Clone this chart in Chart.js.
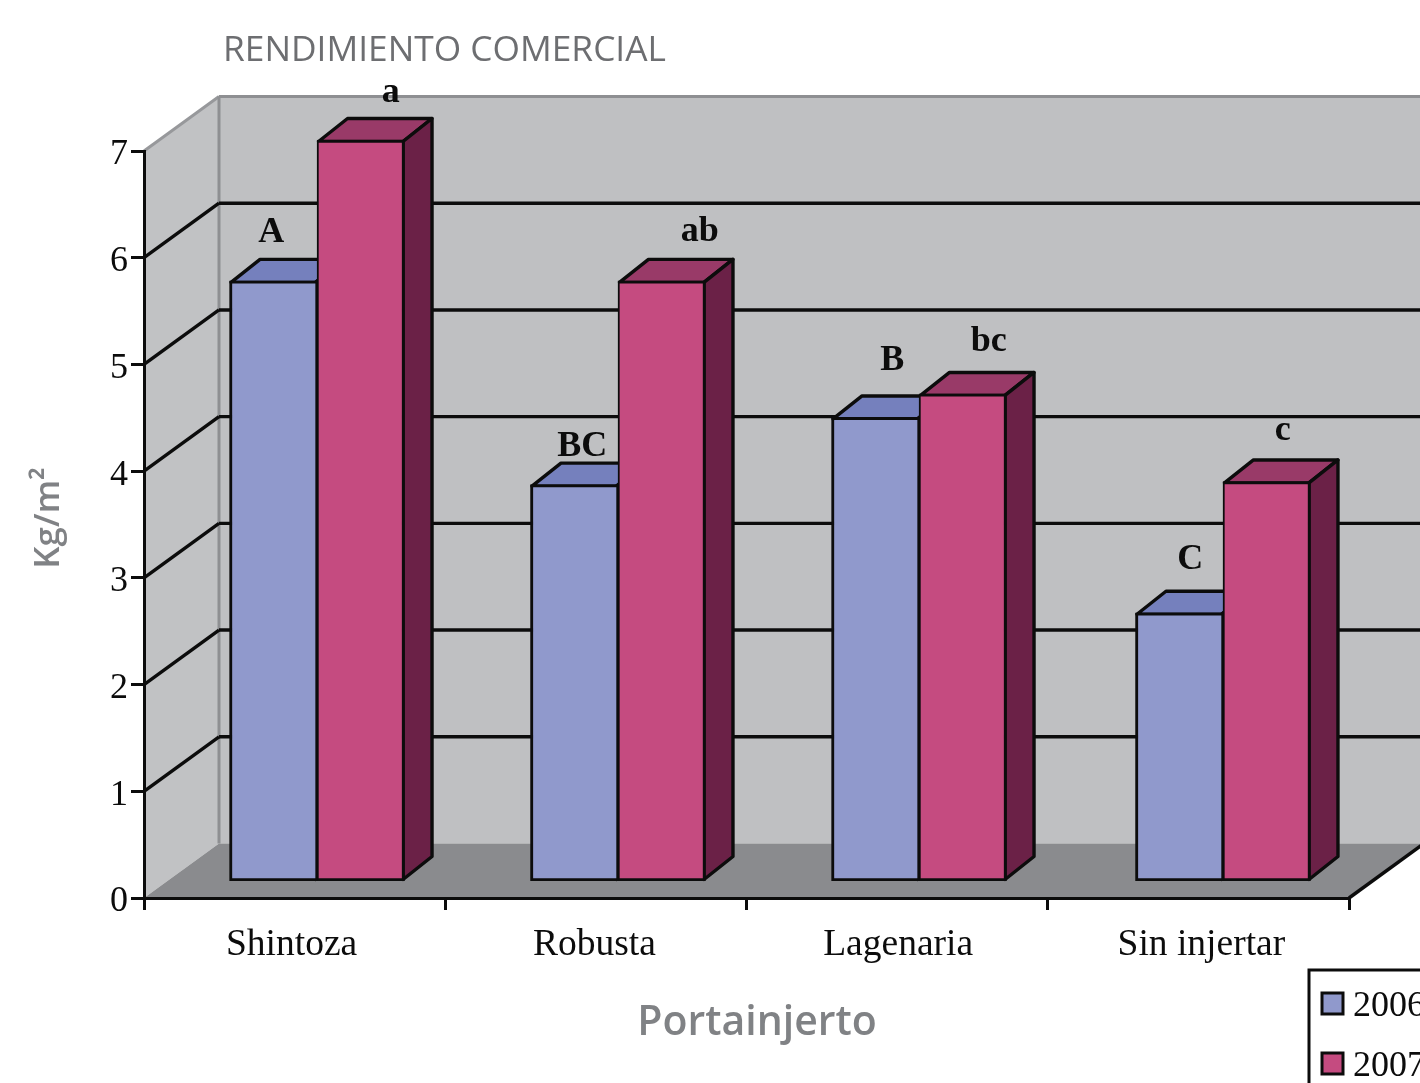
<!DOCTYPE html>
<html><head><meta charset="utf-8">
<style>html,body{margin:0;padding:0;background:#fff;overflow:hidden}canvas{display:block;filter:blur(0.4px)}</style>
<script src="https://cdn.jsdelivr.net/npm/chart.js@4"></script>
</head><body><canvas id="c" width="1420" height="1083"></canvas>
<script>
const categories = ['Shintoza', 'Robusta', 'Lagenaria', 'Sin injertar'];
const seriesNames = ['2006', '2007'];
const values2006 = [5.61, 3.70, 4.33, 2.50];
const values2007 = [6.93, 5.61, 4.55, 3.73];
const letters2006 = ['A', 'BC', 'B', 'C'];
const letters2007 = ['a', 'ab', 'bc', 'c'];
const titleText = 'RENDIMIENTO COMERCIAL';
const xTitleText = 'Portainjerto';
const yTitleText = 'Kg/m²';

// layout constants (3D projection), not data
const WALL_DX = 75, WALL_DY = -54.5;
const BAR_DX = 29, BAR_DY = -23, BAR_LIFT = -17;
const barShift = [22.4, 22.1, 21.9, 24.6];
const xLabelShift = [-3, -1.5, 1, 3];
const yLabelDrop = 4;
const letterOffset2006 = [[-2, -50], [8, -39], [17, -58], [11, -55]];
const letterOffset2007 = [[30, -49], [38, -51], [26, -54], [16, -52]];
const SERIF = '"Liberation Serif"';
const INK = '#0c0c0c';
const HALF = 1.5;
const LW = 3.4;

function poly(ctx, pts, fill, stroke, lw) {
  ctx.beginPath();
  pts.forEach((p, i) => i ? ctx.lineTo(p[0], p[1]) : ctx.moveTo(p[0], p[1]));
  ctx.closePath();
  if (fill) { ctx.fillStyle = fill; ctx.fill(); }
  if (stroke) { ctx.strokeStyle = stroke; ctx.lineWidth = lw; ctx.lineJoin = 'round'; ctx.stroke(); }
}
function line(ctx, x1, y1, x2, y2, color, lw) {
  ctx.beginPath(); ctx.moveTo(x1, y1); ctx.lineTo(x2, y2);
  ctx.strokeStyle = color; ctx.lineWidth = lw; ctx.stroke();
}

const walls = {
  id: 'walls',
  beforeDraw(chart) {
    const { ctx, chartArea: a, scales: { x, y } } = chart;
    // nudge the tick labels drawn by the library
    y.getLabelItems(a).forEach(it => { if (!it.moved) { it.options.translation[1] += yLabelDrop; it.moved = true; } });
    x.getLabelItems(a).forEach((it, i) => { if (!it.moved) { it.options.translation[0] += xLabelShift[i]; it.moved = true; } });
    const L = a.left, R = a.right, T = a.top, B = a.bottom;
    ctx.save();
    poly(ctx, [[L, T], [L + WALL_DX, T + WALL_DY], [L + WALL_DX, B + WALL_DY], [L, B]], '#c1c2c4');
    poly(ctx, [[L + WALL_DX, T + WALL_DY], [R + WALL_DX, T + WALL_DY], [R + WALL_DX, B + WALL_DY], [L + WALL_DX, B + WALL_DY]], '#bfc0c2');
    poly(ctx, [[L, B], [L + WALL_DX, B + WALL_DY], [R + WALL_DX, B + WALL_DY], [R, B]], '#8a8b8e');
    line(ctx, L, T, L + WALL_DX, T + WALL_DY, '#97989b', 3);
    line(ctx, L + WALL_DX, T + WALL_DY, R + WALL_DX, T + WALL_DY, '#8e8f92', 3);
    line(ctx, L + WALL_DX, T + WALL_DY, L + WALL_DX, B + WALL_DY, '#8e8f92', 3);
    y.ticks.forEach(t => {
      if (t.value === 0 || t.value === y.max) return;
      const py = y.getPixelForValue(t.value);
      line(ctx, L, py, L + WALL_DX, py + WALL_DY, INK, LW);
      line(ctx, L + WALL_DX, py + WALL_DY, R + WALL_DX, py + WALL_DY, INK, LW);
    });
    line(ctx, R, B, R + WALL_DX, B + WALL_DY, INK, LW);
    ctx.restore();
  }
};

const bars3d = {
  id: 'bars3d',
  afterDatasetsUpdate(chart) {
    chart.data.datasets.forEach((ds, i) => {
      chart.getDatasetMeta(i).data.forEach((el, j) => {
        el.x += barShift[j];
        // the library insets borders: grow so the outline is centred on the value
        el.y -= HALF; el.base += HALF;
      });
    });
  },
  beforeDatasetsDraw(chart) {
    const { ctx } = chart;
    ctx.save();
    ctx.translate(0, BAR_LIFT);
    chart.data.datasets.forEach((ds, i) => {
      chart.getDatasetMeta(i).data.forEach(el => {
        const l = el.x - el.width / 2 + HALF, r = el.x + el.width / 2 - HALF, t = el.y + HALF, b = el.base - HALF;
        poly(ctx, [[l, t], [l + BAR_DX, t + BAR_DY], [r + BAR_DX, t + BAR_DY], [r, t]], ds.topColor, INK, LW);
        poly(ctx, [[r, t], [r + BAR_DX, t + BAR_DY], [r + BAR_DX, b + BAR_DY], [r, b]], ds.sideColor, INK, LW);
      });
    });
  },
  afterDatasetsDraw(chart) {
    chart.ctx.restore();
  }
};

const annotations = {
  id: 'annotations',
  afterDraw(chart) {
    const { ctx } = chart;
    ctx.save();
    ctx.font = 'bold 36px ' + SERIF;
    ctx.fillStyle = INK; ctx.textAlign = 'center'; ctx.textBaseline = 'middle';
    [[letters2006, letterOffset2006], [letters2007, letterOffset2007]].forEach((set, i) => {
      chart.getDatasetMeta(i).data.forEach((el, j) => {
        ctx.fillText(set[0][j], el.x + set[1][j][0], el.y + HALF + BAR_LIFT + set[1][j][1]);
      });
    });
    ctx.font = '35.3px "Open Sans"';
    ctx.fillStyle = '#6d6e71'; ctx.textAlign = 'left';
    ctx.fillText(titleText, 223, 51);
    ctx.font = '600 41px "Open Sans"';
    ctx.fillStyle = '#808285'; ctx.textAlign = 'center';
    ctx.fillText(xTitleText, 757, 1023);
    ctx.save();
    ctx.translate(49, 518); ctx.rotate(-Math.PI / 2);
    ctx.font = '600 35px "Open Sans"';
    ctx.fillStyle = '#808285';
    ctx.fillText(yTitleText, 0, 0);
    ctx.restore();
    ctx.fillStyle = '#fff';
    ctx.fillRect(1309, 970, 140, 140);
    ctx.strokeStyle = INK; ctx.lineWidth = 3;
    ctx.strokeRect(1309, 970, 140, 140);
    ctx.font = '36px ' + SERIF; ctx.textAlign = 'left';
    chart.data.datasets.forEach((ds, i) => {
      const ly = 1004 + i * 60;
      ctx.fillStyle = ds.backgroundColor;
      ctx.fillRect(1322, ly - 11, 21, 21);
      ctx.strokeRect(1322, ly - 11, 21, 21);
      ctx.fillStyle = INK;
      ctx.fillText(ds.label, 1353, ly + 3);
    });
    ctx.restore();
  }
};

new Chart(document.getElementById('c'), {
  type: 'bar',
  data: {
    labels: categories,
    datasets: [
      { label: seriesNames[0], data: values2006, backgroundColor: '#9099cc', topColor: '#7580bd', sideColor: '#5f68a0',
        borderColor: INK, borderWidth: { left: 3, top: 3, bottom: 3, right: 2 }, borderSkipped: false, barThickness: 87.5 },
      { label: seriesNames[1], data: values2007, backgroundColor: '#c54b80', topColor: '#993a68', sideColor: '#6b2147',
        borderColor: INK, borderWidth: { left: 2, top: 3, bottom: 3, right: 3 }, borderSkipped: false, barThickness: 87.5 }
    ]
  },
  options: {
    responsive: false,
    animation: false,
    layout: { padding: { left: 0, top: 151, right: 71, bottom: 0 } },
    plugins: { legend: { display: false }, title: { display: false }, tooltip: { enabled: false } },
    scales: {
      x: {
        afterFit(s) { s.height = 185; },
        grid: { drawOnChartArea: false, color: INK, lineWidth: 3, tickLength: 12, offset: true },
        border: { color: INK, width: 3 },
        ticks: { color: INK, font: { family: SERIF, size: 37.5 }, padding: 13, maxRotation: 0, autoSkip: false }
      },
      y: {
        min: 0, max: 7,
        afterFit(s) { s.width = 144; },
        grid: { drawOnChartArea: false, color: INK, lineWidth: 3, tickLength: 13 },
        border: { color: INK, width: 3 },
        ticks: { stepSize: 1, color: INK, font: { family: SERIF, size: 36 }, padding: 3 }
      }
    }
  },
  plugins: [walls, bars3d, annotations]
});
</script>
</body></html>
